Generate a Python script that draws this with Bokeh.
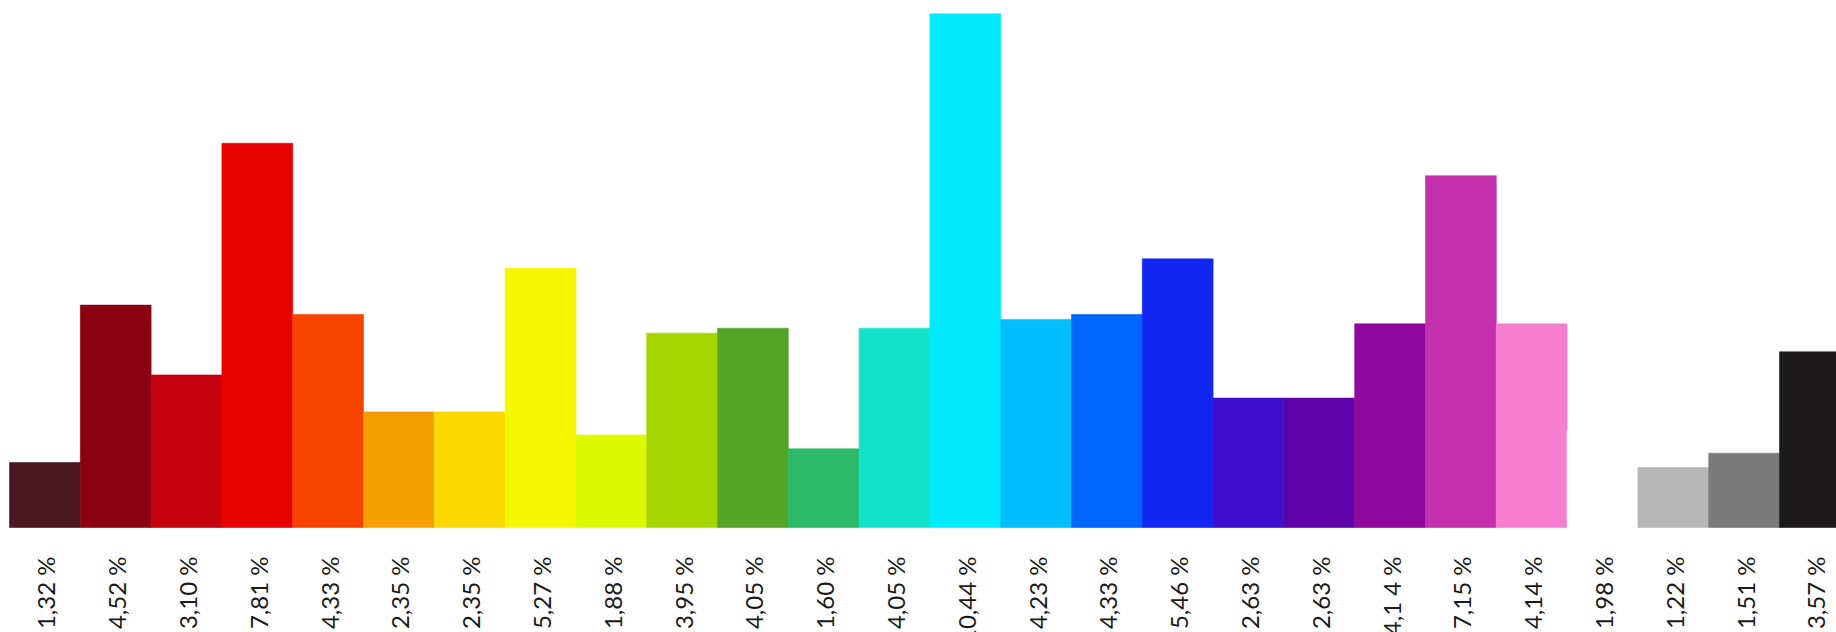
from bokeh.plotting import figure
from bokeh.models import ColumnDataSource, Range1d
from bokeh.core.properties import value
from bokeh.embed import file_html
from bokeh.resources import INLINE
import math

labels = ["1,32 %", "4,52 %", "3,10 %", "7,81 %", "4,33 %", "2,35 %", "2,35 %",
          "5,27 %", "1,88 %", "3,95 %", "4,05 %", "1,60 %", "4,05 %", "10,44 %",
          "4,23 %", "4,33 %", "5,46 %", "2,63 %", "2,63 %", "4,1 4 %", "7,15 %",
          "4,14 %", "1,98 %", "1,22 %", "1,51 %", "3,57 %"]
values = [1.32, 4.52, 3.10, 7.81, 4.33, 2.35, 2.35, 5.27, 1.88, 3.95, 4.05, 1.60,
          4.05, 10.44, 4.23, 4.33, 5.46, 2.63, 2.63, 4.14, 7.15, 4.14, 1.98,
          1.22, 1.51, 3.57]
colors = ["#4A1820", "#8B0012", "#C3000C", "#E60000", "#F74300", "#F59E00",
          "#FCD800", "#F5F700", "#DDFB00", "#A6D600", "#55A427", "#2DBA68",
          "#14E2C9", "#00EAFC", "#00BFFC", "#0066FC", "#1226F2", "#3F0ECC",
          "#5E02AA", "#91089F", "#C42FAD", "#F57FCE", "#FFFFFF", "#B7B7B7",
          "#7B7B7B", "#1D1A1B"]

xs = list(range(len(values)))
src = ColumnDataSource(dict(x=xs, top=values, color=colors, label=labels,
                            zero=[0] * len(values)))

W, H = 1836, 632
px_per_bar = 70.8
px_per_unit = 49.2
base_px = 527   # baseline from top of frame
left_px = 9     # left edge of first bar

x0 = -0.5 - left_px / px_per_bar
x1 = x0 + W / px_per_bar
y1 = base_px / px_per_unit
y0 = -(H - base_px) / px_per_unit

p = figure(width=W, height=H, output_backend="svg", toolbar_location=None,
           x_range=Range1d(x0, x1), y_range=Range1d(y0, y1),
           min_border=0, min_border_left=0, min_border_right=0,
           min_border_top=0, min_border_bottom=0)
p.axis.visible = False
p.grid.visible = False
p.outline_line_color = None
p.background_fill_color = "white"
p.border_fill_color = "white"

p.vbar(x="x", width=1.0, top="top", bottom=0, source=src,
       fill_color="color", line_color="color", line_width=0.6)

p.text(x="x", y="zero", text="label", source=src, angle=math.pi / 2,
       text_align="right", text_baseline="alphabetic",
       x_offset=1, y_offset=29,
       text_font=value("Lato"), text_font_size="24px", text_color="#1a1a1a")

open("out.html", "w").write(file_html(p, INLINE))
